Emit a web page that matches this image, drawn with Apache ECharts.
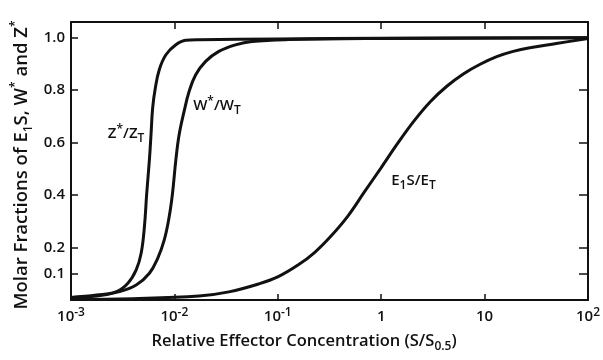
<!DOCTYPE html>
<html><head><meta charset="utf-8">
<script src="https://cdn.jsdelivr.net/npm/echarts@6/dist/echarts.min.js"></script>
<style>html,body{margin:0;padding:0;background:#fff}#c{width:603px;height:360px}</style>
</head><body><div id="c"></div>
<script>
// ---- data ----
const xTickValues = [0.001, 0.01, 0.1, 1, 10, 100];
const xTickBases  = ['10', '10', '10', '1', '10', '10'];
const xTickExps   = ['-3', '-2', '-1', '', '', '2'];
const yTickValues = [0.1, 0.2, 0.4, 0.6, 0.8, 1.0];
const yTickLabels = ['0.1', '0.2', '0.4', '0.6', '0.8', '1.0'];

// Z*/Z_T
const zX = [0.001, 0.00177, 0.00275, 0.00355, 0.00427, 0.00477, 0.00513, 0.00540, 0.00573, 0.00594, 0.00616, 0.00654, 0.00714, 0.00828, 0.01033, 0.01288, 0.0173, 0.1, 1, 100];
const zY = [0.010, 0.019, 0.032, 0.064, 0.115, 0.178, 0.280, 0.407, 0.534, 0.630, 0.732, 0.808, 0.878, 0.935, 0.973, 0.990, 0.992, 0.995, 0.998, 1.0];
// W*/W_T
const wX = [0.001, 0.00177, 0.00295, 0.00427, 0.00573, 0.00689, 0.00798, 0.00891, 0.00959, 0.01033, 0.01111, 0.01241, 0.01387, 0.01607, 0.02005, 0.0269, 0.0389, 0.0562, 0.126, 1, 100];
const wY = [0.010, 0.015, 0.032, 0.057, 0.102, 0.159, 0.229, 0.318, 0.407, 0.534, 0.630, 0.719, 0.795, 0.859, 0.910, 0.948, 0.973, 0.986, 0.993, 0.997, 1.0];
// E1S/E_T
const eX = [0.001, 0.004, 0.0173, 0.0336, 0.0652, 0.101, 0.158, 0.228, 0.329, 0.476, 0.688, 0.993, 1.436, 2.08, 3.00, 4.34, 6.28, 9.06, 13.1, 18.9, 27.4, 49.3, 100];
const eY = [0.002, 0.005, 0.015, 0.031, 0.061, 0.089, 0.134, 0.182, 0.245, 0.320, 0.412, 0.503, 0.596, 0.683, 0.757, 0.816, 0.863, 0.899, 0.928, 0.948, 0.962, 0.978, 0.997];

const curveLabels = ['Z{sup|*}/Z{sub|T}', 'W{sup|*}/W{sub|T}', 'E{sub|1}S/E{sub|T}'];
const labelAnchors = [[0.00341, 0.634], [0.0258, 0.740], [2.05, 0.454]];

const xTitle = 'Relative Effector Concentration (S/S{sub|0.5})';
const yTitle = 'Molar Fractions of E{sub|1}S, W{sup|*} and Z{sup|*}';

// ---- styling ----
const ink = '#111';
const font = '"Open Sans", "Noto Sans", sans-serif';
const weight = 600;

function idxOf(arr, v, log) {
  for (let i = 0; i < arr.length; i++) {
    const a = log ? Math.log10(arr[i]) : arr[i];
    const b = log ? Math.log10(v) : v;
    if (Math.abs(a - b) < 1e-6) return i;
  }
  return -1;
}

const chart = echarts.init(document.getElementById('c'), null, {renderer: 'canvas'});

function curve(xs, ys) { return xs.map((x, i) => [x, ys[i]]); }

const axisLine = {show: true, onZero: false, lineStyle: {color: ink, width: 2}};
const tickStyle = {color: ink, width: 1.5};

chart.setOption({
  animation: false,
  backgroundColor: '#fff',
  grid: {left: 71, right: 11, top: 22, bottom: 60, containLabel: false},
  xAxis: [
    {
      type: 'log', logBase: 10, min: 0.001, max: 100, position: 'bottom',
      axisLine: axisLine,
      axisTick: {show: true, inside: true, length: 6, lineStyle: tickStyle, customValues: xTickValues},
      axisLabel: {
        customValues: xTickValues, margin: 7, color: ink, fontFamily: font,
        formatter: function (v) {
          const i = idxOf(xTickValues, v, true);
          if (i < 0) return '';
          return '{b|' + xTickBases[i] + '}' + (xTickExps[i] ? '{s|' + xTickExps[i] + '}' : '');
        },
        rich: {
          b: {fontSize: 15, lineHeight: 20, fontFamily: font, fontWeight: weight, color: ink, verticalAlign: 'middle'},
          s: {fontSize: 12, lineHeight: 10, fontFamily: font, fontWeight: weight, color: ink, verticalAlign: 'top'}
        }
      },
      splitLine: {show: false}
    },
    {
      type: 'log', logBase: 10, min: 0.001, max: 100, position: 'top',
      axisLine: axisLine,
      axisTick: {show: true, inside: true, length: 7, lineStyle: tickStyle, customValues: xTickValues},
      axisLabel: {show: false},
      splitLine: {show: false}
    }
  ],
  yAxis: [
    {
      type: 'value', min: 0, max: 1.06, position: 'left',
      axisLine: axisLine,
      axisTick: {show: true, inside: true, length: 7, lineStyle: tickStyle, customValues: yTickValues},
      axisLabel: {
        customValues: yTickValues, margin: 6, color: ink, fontFamily: font, fontSize: 15, fontWeight: weight,
        formatter: function (v) { const i = idxOf(yTickValues, v, false); return i < 0 ? '' : yTickLabels[i]; }
      },
      splitLine: {show: false}
    },
    {
      type: 'value', min: 0, max: 1.06, position: 'right',
      axisLine: axisLine,
      axisTick: {show: true, inside: true, length: 9, lineStyle: tickStyle, customValues: yTickValues},
      axisLabel: {show: false},
      splitLine: {show: false}
    }
  ],
  series: [
    {name: 'Z', type: 'line', data: curve(zX, zY)},
    {name: 'W', type: 'line', data: curve(wX, wY)},
    {name: 'E', type: 'line', data: curve(eX, eY)}
  ].map(s => Object.assign(s, {
    xAxisIndex: 0, yAxisIndex: 0, symbol: 'none', smooth: 0.4,
    lineStyle: {color: ink, width: 3}, clip: true, z: 3
  }))
});

const richText = {
  sup: {fontSize: 12, lineHeight: 10, fontFamily: font, fontWeight: weight, fill: ink, verticalAlign: 'top'},
  sub: {fontSize: 12, lineHeight: 10, fontFamily: font, fontWeight: weight, fill: ink, verticalAlign: 'bottom'}
};
function textEl(text, x, y, size, rot) {
  return {
    type: 'text', x: x, y: y, rotation: rot || 0, z: 10,
    style: {
      text: text, fill: ink, font: weight + ' ' + size + 'px ' + font,
      align: 'center', verticalAlign: 'middle', textAlign: 'center', textVerticalAlign: 'middle',
      lineHeight: size + 6,
      rich: Object.assign({}, richText)
    }
  };
}

const graphics = labelAnchors.map((p, i) => {
  const px = chart.convertToPixel({xAxisIndex: 0, yAxisIndex: 0}, p);
  return textEl(curveLabels[i], px[0], px[1], 15);
});
graphics.push(textEl(xTitle, 304, 341, 16.5));
graphics.push(textEl(yTitle, 22, 165, 18.5, Math.PI / 2));
chart.setOption({graphic: graphics});
</script>
</body></html>
